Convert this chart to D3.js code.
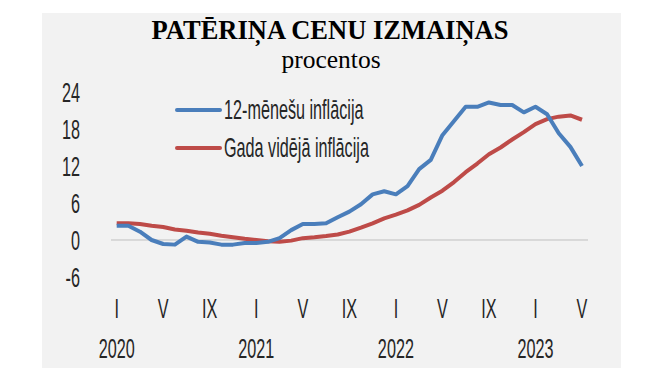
<!DOCTYPE html>
<html>
<head>
<meta charset="utf-8">
<script src="https://cdn.jsdelivr.net/npm/d3@7"></script>
<style>
    body { margin: 0; background: #fff; }
    .chart text { fill: #262626; }
</style>
</head>
<body>
<div class="chart"></div>
<script>
// months Jan 2020 .. May 2023
const years = [2020, 2021, 2022, 2023]
const month_labels = ["I", "II", "III", "IV", "V", "VI", "VII", "VIII", "IX", "X", "XI", "XII"]
const shown_months = ["I", "V", "IX"]

const series_names = ["12-mēnešu inflācija", "Gada vidējā inflācija"]

const inflation_12m = [
    2.3, 2.3, 1.35, 0.0, -0.65, -0.75, 0.55, -0.3, -0.4, -0.75, -0.75, -0.5,
    -0.5, -0.3, 0.3, 1.6, 2.6, 2.6, 2.7, 3.7, 4.6, 5.8, 7.4, 7.9,
    7.4, 8.75, 11.5, 13.0, 17.0, 19.3, 21.6, 21.6, 22.3, 21.9, 21.9, 20.7,
    21.6, 20.4, 17.3, 15.1, 12.0
]

const inflation_avg = [
    2.7, 2.7, 2.6, 2.3, 2.1, 1.7, 1.5, 1.2, 1.0, 0.7, 0.45, 0.2,
    0.0, -0.2, -0.3, -0.1, 0.3, 0.45, 0.65, 0.9, 1.35, 2.0, 2.7, 3.5,
    4.1, 4.8, 5.7, 6.9, 8.0, 9.4, 11.0, 12.4, 13.9, 15.0, 16.3, 17.5,
    18.8, 19.6, 20.0, 20.2, 19.5
]

const y_ticks = [-6, 0, 6, 12, 18, 24]

const ctx = {
    W: 665,
    H: 375,
    colors: ["#4a7ebb", "#be4b48"],
    narrow: 0.6,
}

function create_chart() {
    const svg = d3.select(".chart")
        .append("svg")
        .attr("width", ctx.W)
        .attr("height", ctx.H)

    svg.append("rect")
        .attr("x", 42)
        .attr("y", 13)
        .attr("width", 579)
        .attr("height", 355)
        .attr("fill", "#f2f2f2")

    // title
    svg.append("text")
        .attr("x", 330)
        .attr("y", 39)
        .attr("text-anchor", "middle")
        .style("font-family", "'Liberation Serif', 'Times New Roman', serif")
        .style("font-weight", "bold")
        .style("font-size", "26.5px")
        .style("fill", "#000")
        .text("PATĒRIŅA CENU IZMAIŅAS")

    svg.append("text")
        .attr("x", 331)
        .attr("y", 67.5)
        .attr("text-anchor", "middle")
        .style("font-family", "'Liberation Serif', 'Times New Roman', serif")
        .style("font-size", "25.5px")
        .style("fill", "#000")
        .text("procentos")

    // month keys
    const months = []
    years.forEach(y => month_labels.forEach((m, i) => months.push({ year: y, month: m, idx: i })))
    ctx.months = months.slice(0, inflation_12m.length)

    ctx.x = d3.scalePoint()
        .domain(ctx.months.map(d => d.year + "-" + d.idx))
        .range([116.7, 582])

    ctx.y = d3.scaleLinear()
        .domain([-6, 24])
        .range([277, 92])

    draw_axes(svg)
    draw_lines(svg)
    draw_legend(svg)
}

function narrow_text(sel, x, y, anchor, txt) {
    // condensed look: horizontally squeezed text
    return sel.append("text")
        .attr("transform", "translate(" + x + "," + y + ") scale(" + ctx.narrow + ",1)")
        .attr("text-anchor", anchor)
        .style("font-family", "'Liberation Sans', Arial, sans-serif")
        .style("font-size", "27px")
        .text(txt)
}

function draw_axes(svg) {
    const g = svg.append("g").attr("class", "axes")

    y_ticks.forEach(t => narrow_text(g, 80, ctx.y(t) + 9.5, "end", t))

    g.append("line")
        .attr("x1", 111)
        .attr("x2", 588)
        .attr("y1", ctx.y(0))
        .attr("y2", ctx.y(0))
        .attr("stroke", "#bfbfbf")
        .attr("stroke-width", 1)

    ctx.months.forEach(d => {
        const xp = ctx.x(d.year + "-" + d.idx)
        if (shown_months.includes(d.month)) narrow_text(g, xp, 318, "middle", d.month)
        if (d.idx == 0) narrow_text(g, xp, 358, "middle", d.year)
    })
}

function draw_lines(svg) {
    const line = d3.line()
        .x((d, i) => ctx.x(ctx.months[i].year + "-" + ctx.months[i].idx))
        .y(d => ctx.y(d))

    // red drawn first, blue on top at the start
    const data = [inflation_avg, inflation_12m]
    const cols = [ctx.colors[1], ctx.colors[0]]

    svg.append("g")
        .attr("class", "lines")
        .selectAll("path")
        .data(data)
        .enter()
        .append("path")
        .attr("d", line)
        .attr("fill", "none")
        .attr("stroke", (d, i) => cols[i])
        .attr("stroke-width", 4)
        .attr("stroke-linejoin", "round")
}

function draw_legend(svg) {
    const g = svg.append("g").attr("class", "legend")
    const rows = [110, 148]

    series_names.forEach((name, i) => {
        g.append("line")
            .attr("x1", 177)
            .attr("x2", 220)
            .attr("y1", rows[i])
            .attr("y2", rows[i])
            .attr("stroke", ctx.colors[i])
            .attr("stroke-width", 4)
            .attr("stroke-linecap", "round")
        narrow_text(g, 224, rows[i] + 9, "start", name)
    })
}

create_chart()
</script>
</body>
</html>
